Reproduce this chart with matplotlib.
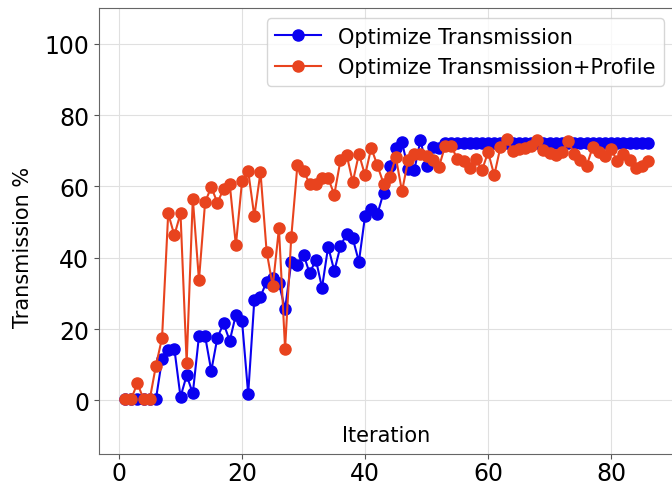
import matplotlib
matplotlib.use("Agg")
import matplotlib.pyplot as plt

# iterations 1..86
iterations = list(range(1, 87))

# Optimize Transmission (blue)
trans = [0.5, 0.3, 0.3, 0.3, 0.3, 0.3, 11.5, 14.2, 14.5, 1.0,
         7.0, 2.0, 18.0, 18.0, 8.3, 17.6, 21.6, 16.7, 24.0, 22.3,
         1.8, 28.2, 29.1, 33.3, 34.2, 32.8, 25.6, 38.7, 38.1, 40.9,
         35.6, 39.5, 31.6, 43.1, 36.3, 43.2, 46.7, 45.4, 38.9, 51.7,
         53.8, 52.2, 58.2, 65.6, 70.7, 72.4, 64.9, 64.5, 72.9, 65.7,
         71.0, 70.7] + [72.1] * 34

# Optimize Transmission+Profile (red)
trans_prof = [0.5, 0.5, 4.8, 0.3, 0.3, 9.7, 17.5, 52.4, 46.3, 52.4,
              10.5, 56.6, 33.7, 55.6, 59.8, 55.4, 59.3, 60.7, 43.5, 61.4,
              64.3, 51.6, 64.0, 41.7, 32.0, 48.2, 14.5, 45.7, 65.9, 64.3,
              60.7, 60.7, 62.3, 62.3, 57.7, 67.3, 68.9, 61.2, 69.1, 63.1,
              70.8, 65.9, 60.8, 62.6, 68.2, 58.6, 67.3, 69.1, 69.1, 68.6,
              67.5, 65.4, 71.3, 71.3, 67.7, 67.0, 65.1, 67.8, 64.5, 69.6,
              63.1, 71.0, 73.3, 70.0, 70.5, 70.7, 71.3, 72.9, 70.1, 69.4,
              68.7, 69.6, 72.7, 69.1, 67.3, 65.7, 71.0, 69.6, 68.4, 70.5,
              67.0, 69.1, 67.5, 65.1, 65.8, 67.1]

fig = plt.figure(figsize=(6.72, 4.85), dpi=100)
ax = fig.add_axes([0.1473, 0.062, 0.856, 0.9194])

ax.plot(iterations, trans, color="#0a00f0", marker="o", markersize=8,
        linewidth=1.5, label="Optimize Transmission")
ax.plot(iterations, trans_prof, color="#e8431e", marker="o", markersize=8,
        linewidth=1.5, label="Optimize Transmission+Profile")

ax.set_ylim(-15, 110)
ax.set_xticks([0, 20, 40, 60, 80])
ax.set_yticks([0, 20, 40, 60, 80, 100])
ax.tick_params(labelsize=17, color="#555555")
ax.tick_params(axis="x", pad=1.5)
ax.grid(True, color="#e0e0e0", linewidth=0.8)
ax.set_axisbelow(True)

for s in ax.spines.values():
    s.set_color("#666666")

ax.set_xlabel("Iteration", fontsize=15)
ax.xaxis.set_label_coords(0.5, 0.065)
ax.set_ylabel("Transmission %", fontsize=15)
ax.yaxis.set_label_coords(-0.115, 0.466)

ax.legend(loc="upper right", fontsize=15, handlelength=2.2)

fig.savefig("out.png", dpi=100)
